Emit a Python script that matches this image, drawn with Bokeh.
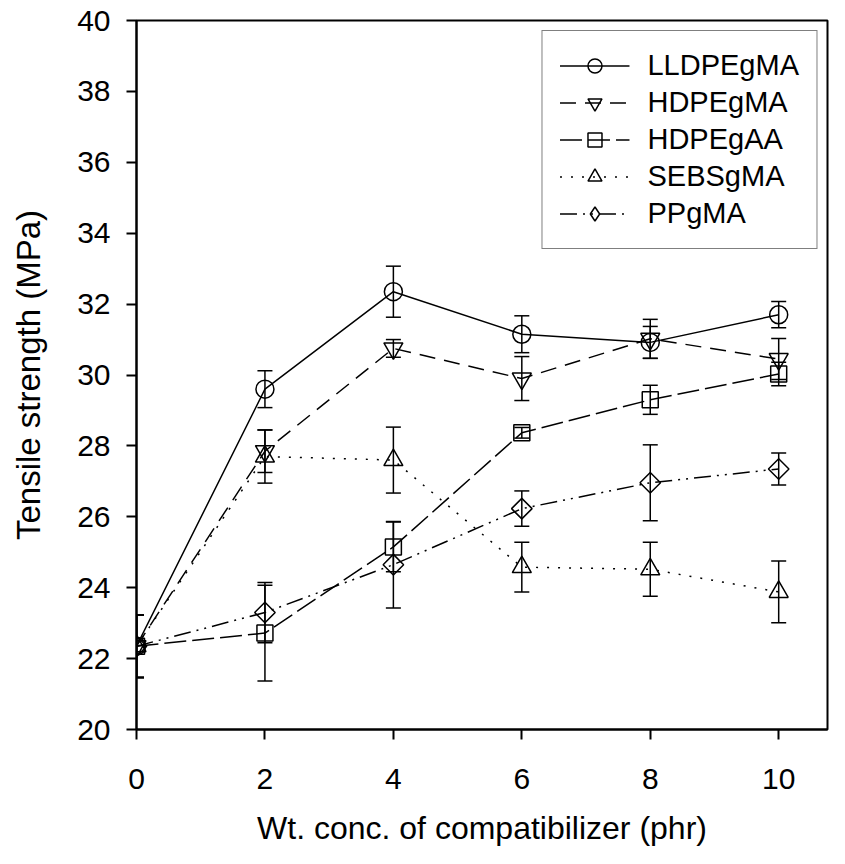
from bokeh.plotting import figure
from bokeh.models import (ColumnDataSource, Whisker, TeeHead, Legend, LegendItem,
                          FixedTicker, Range1d)
from bokeh.embed import file_html
from bokeh.resources import INLINE
import math

# ---- data ----
conc = [0, 2, 4, 6, 8, 10]
x_ticks = [0, 2, 4, 6, 8, 10]
y_ticks = [20, 22, 24, 26, 28, 30, 32, 34, 36, 38, 40]

lldpe_gma = [22.35, 29.6, 32.35, 31.15, 30.92, 31.7]
lldpe_gma_err = [0.88, 0.52, 0.72, 0.52, 0.45, 0.37]

hdpe_gma = [22.35, 27.85, 30.75, 29.9, 31.02, 30.45]
hdpe_gma_err = [0.88, 0.6, 0.25, 0.62, 0.55, 0.58]

hdpe_gaa = [22.35, 22.72, 25.15, 28.37, 29.3, 30.03]
hdpe_gaa_err = [0.88, 1.35, 0.7, 0.15, 0.41, 0.33]

sebs_gma = [22.35, 27.7, 27.6, 24.58, 24.52, 23.88]
sebs_gma_err = [0.88, 0.75, 0.93, 0.7, 0.76, 0.87]

pp_gma = [22.35, 23.3, 24.65, 26.23, 26.96, 27.35]
pp_gma_err = [0.88, 0.85, 1.22, 0.5, 1.07, 0.45]

x_title = "Wt. conc. of compatibilizer (phr)"
y_title = "Tensile strength (MPa)"

# name, values, errors, marker, size, angle, dash, legend marker
series = [
    ("LLDPEgMA", lldpe_gma, lldpe_gma_err, "circle", 18, 0.0, "solid", None),
    ("HDPEgMA", hdpe_gma, hdpe_gma_err, "inverted_triangle", 19, 0.0, "16 9", None),
    ("HDPEgAA", hdpe_gaa, hdpe_gaa_err, "square", 16, 0.0, "22 6", None),
    ("SEBSgMA", sebs_gma, sebs_gma_err, "triangle", 19, 0.0, "2 9", None),
    ("PPgMA", pp_gma, pp_gma_err, "square", 14.5, math.pi / 4, "17 6 2 6 2 6", "diamond"),
]

FONT = "Liberation Sans"

p = figure(width=829, height=848, x_range=Range1d(0, 10.76), y_range=Range1d(20, 40),
           output_backend="svg", toolbar_location=None,
           min_border_left=136, min_border_right=2, min_border_top=20, min_border_bottom=118)
p.grid.visible = False
p.outline_line_color = "black"
p.outline_line_width = 2
p.background_fill_color = "white"
p.border_fill_color = "white"

for ax, ticks in ((p.xaxis, x_ticks), (p.yaxis, y_ticks)):
    ax.ticker = FixedTicker(ticks=ticks)
    ax.axis_line_width = 2
    ax.axis_line_color = "black"
    ax.major_tick_line_width = 2
    ax.major_tick_line_color = "black"
    ax.major_tick_in = 0
    ax.major_tick_out = 10
    ax.minor_tick_line_color = None
    ax.major_label_text_font = FONT
    ax.major_label_text_font_size = "30px"
    ax.major_label_text_color = "black"
    ax.axis_label_text_font = FONT
    ax.axis_label_text_font_style = "normal"
    ax.axis_label_text_color = "black"

p.xaxis.axis_label = x_title
p.xaxis.axis_label_text_font_size = "32px"
p.yaxis.axis_label = y_title
p.yaxis.axis_label_text_font_size = "33px"
p.xaxis.major_label_standoff = 29
p.xaxis.axis_label_standoff = 18
p.yaxis.major_label_standoff = 16
p.yaxis.axis_label_standoff = 27

items = []
for name, vals, errs, marker, size, angle, dash, leg_marker in series:
    src = ColumnDataSource(dict(
        x=conc, y=vals,
        upper=[v + e for v, e in zip(vals, errs)],
        lower=[v - e for v, e in zip(vals, errs)],
    ))
    w = Whisker(source=src, base="x", upper="upper", lower="lower",
                line_color="black", line_width=1.5,
                upper_head=TeeHead(size=15, line_color="black", line_width=1.5),
                lower_head=TeeHead(size=15, line_color="black", line_width=1.5))
    p.add_layout(w)
    lr = p.line("x", "y", source=src, line_color="black", line_width=1.5, line_dash=dash)
    sr = p.scatter("x", "y", source=src, marker=marker, size=size, angle=angle,
                   fill_color=None, line_color="black", line_width=1.5)
    if leg_marker is not None:
        # legend glyph only: zero size in the plot, legend uses its own marker size
        sr_leg = p.scatter("x", "y", source=src, marker=leg_marker, size=0,
                           fill_color=None, line_color="black", line_width=1.5)
        items.append(LegendItem(label=name, renderers=[lr, sr_leg]))
    else:
        items.append(LegendItem(label=name, renderers=[lr, sr]))

legend = Legend(items=items, location="top_right")
legend.label_text_font = FONT
legend.label_text_font_size = "29px"
legend.label_text_color = "black"
legend.glyph_width = 70
legend.glyph_height = 35
legend.label_height = 35
legend.label_standoff = 18
legend.spacing = 2
legend.padding = 17
legend.margin = 10
legend.border_line_color = "black"
legend.border_line_width = 1.5
legend.background_fill_color = "white"
legend.background_fill_alpha = 1.0
p.add_layout(legend)

open("out.html", "w").write(file_html(p, INLINE))
